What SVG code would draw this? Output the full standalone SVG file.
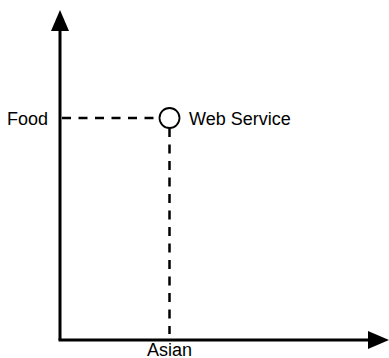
<svg xmlns="http://www.w3.org/2000/svg" width="389" height="358" viewBox="0 0 389 358">
<style>
.axis{stroke:#000;stroke-width:3;fill:none}
.dash{stroke:#000;stroke-width:2.5;fill:none;stroke-dasharray:9,7.5}
text{font-family:"Liberation Sans",Arial,sans-serif;font-size:18px;fill:#000}
</style>
<defs>
<marker id="ah" markerWidth="7" markerHeight="6" refX="0" refY="3" orient="auto" markerUnits="strokeWidth">
<path d="M0,0 L7,3 L0,6 Z" fill="#000"/>
</marker>
</defs>
<rect width="389" height="358" fill="#fff"/>
<g id="connectors">
<path class="axis" d="M60,340 V31" marker-end="url(#ah)"/>
<path class="axis" d="M58.5,340 H368" marker-end="url(#ah)"/>
<path class="dash" d="M62,118 H159"/>
<path class="dash" d="M169.5,128 V334"/>
</g>
<g id="point">
<circle cx="169.5" cy="118" r="10" fill="#fff" stroke="#000" stroke-width="1.8"/>
<text x="189" y="125">Web Service</text>
</g>
<g id="food"><text x="7" y="125">Food</text></g>
<g id="asian"><text x="169.5" y="355.5" text-anchor="middle">Asian</text></g>
</svg>
